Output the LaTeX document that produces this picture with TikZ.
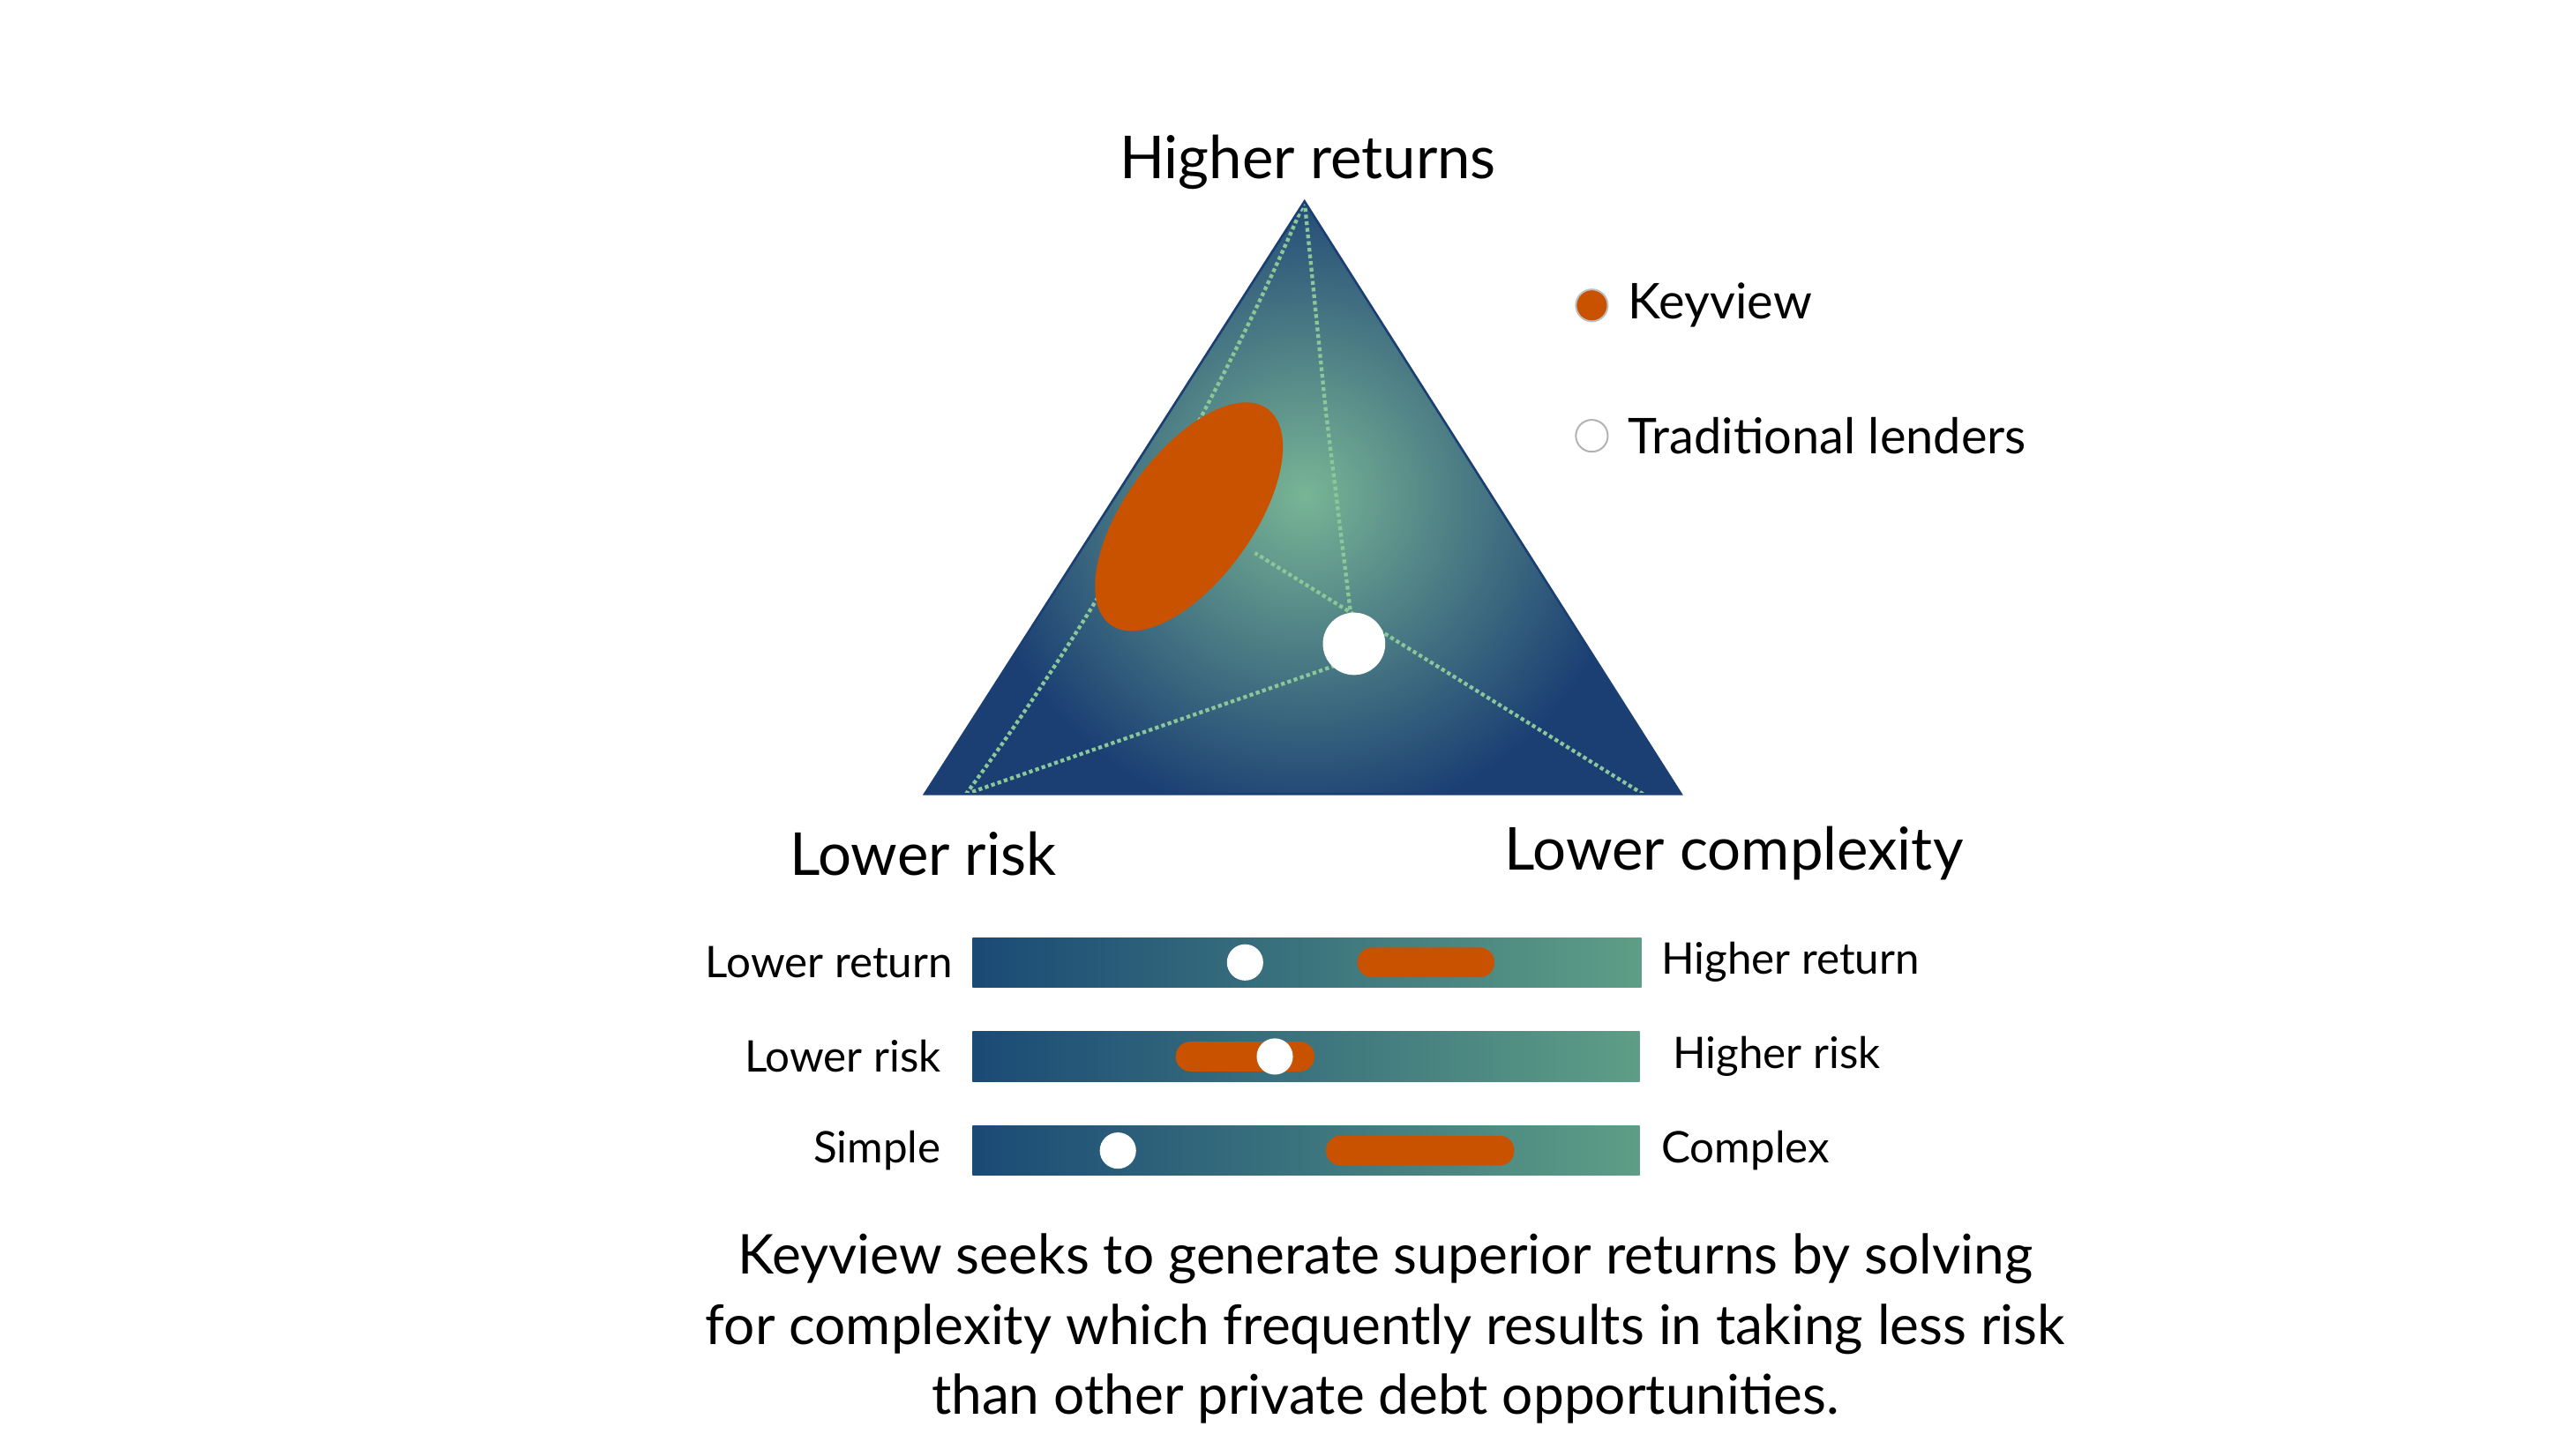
\documentclass[tikz,border=0pt]{standalone}
\usepackage{fontspec}
\setmainfont{Lato}
\usetikzlibrary{shapes.geometric}
\definecolor{dblue}{HTML}{1B3F73}
\definecolor{tgreen}{HTML}{78B595}
\definecolor{orng}{HTML}{C85200}
\definecolor{barL}{HTML}{1A4A75}
\definecolor{barR}{HTML}{5E9E86}
\definecolor{dotg}{HTML}{8CC79A}
\tikzset{
 lab/.style={font=\fontsize{20.4}{24}\selectfont},
 blab/.style={font=\fontsize{15}{18}\selectfont},
 leg/.style={font=\fontsize{17}{20}\selectfont, anchor=west},
 bar/.style={left color=barL, right color=barR, draw=none},
 pill/.style={fill=orng, rounded corners=5},
 wdot/.style={circle, fill=white, inner sep=0, minimum size=12.5},
 dots/.style={dotg, densely dotted, line width=1.3pt},
}
\begin{document}
\begin{tikzpicture}[x=0.02cm,y=-0.02cm]
\useasboundingbox (0,0) rectangle (1560,877.7);
\fill[white] (0,0) rectangle (1560,877.7);
% triangle
\coordinate (T) at (790,122); \coordinate (BL) at (560,481); \coordinate (BR) at (1018,481);
\begin{scope}
\clip (T) -- (BR) -- (BL) -- cycle;
\fill[dblue] (T) -- (BR) -- (BL) -- cycle;
\shade[inner color=tgreen, outer color=dblue] (790,300) circle (200);
\draw[dots] (T) -- (803,250) -- (818,372);
\draw[dots] (585,481) -- (812,402);
\draw[dots] (995,481) -- (760,335);
\draw[dots] (T) .. controls (740,240) and (660,380) .. (585,481);
\end{scope}
\draw[dblue, line width=0.8pt] (T) -- (BR) -- (BL) -- cycle;
\node[ellipse, fill=orng, minimum width=44, minimum height=92, rotate=-36, inner sep=0] (kv) at (720,313) {};
\node[circle, fill=white, inner sep=0, minimum size=21.5] (tl) at (820,390) {};
\node[lab] (ht) at (792,98) {Higher returns};
\node[lab] (lr) at (559,517) {Lower risk};
\node[lab] (lc) at (1050,517) {Lower complexity};
% legend
\node[circle, fill=orng, draw=gray!50, line width=0.6pt, inner sep=0, minimum size=11] (lk) at (964,185) {};
\node[leg] at (980,185) {Keyview};
\node[circle, fill=white, draw=gray!60, line width=0.6pt, inner sep=0, minimum size=11] (lt) at (964,264) {};
\node[leg] at (980,264) {Traditional lenders};
% bars
\shade[bar] (589,568) rectangle (994,598);
\shade[bar] (589,625) rectangle (993,655);
\shade[bar] (589,682) rectangle (993,712);
\fill[pill] (822,574) rectangle (905,592);
\node[wdot] (w1) at (754,583) {};
\fill[pill] (712,631) rectangle (796,649);
\node[wdot] (w2) at (772,640) {};
\fill[pill] (803,688) rectangle (917,706);
\node[wdot] (w3) at (677,697) {};
\node[blab, anchor=east] at (583,583) {Lower return};
\node[blab, anchor=east] at (576,640) {Lower risk};
\node[blab, anchor=east] at (576,697) {Simple};
\node[blab, anchor=west] at (1000,583) {Higher return};
\node[blab, anchor=west] at (1007,640) {Higher risk};
\node[blab, anchor=west] at (1000,697) {Complex};
\node[align=center, font=\fontsize{18.9}{24.2}\selectfont] (para) at (839,805)
 {Keyview seeks to generate superior returns by solving\\for complexity which frequently results in taking less risk\\than other private debt opportunities.};
\end{tikzpicture}
\end{document}
